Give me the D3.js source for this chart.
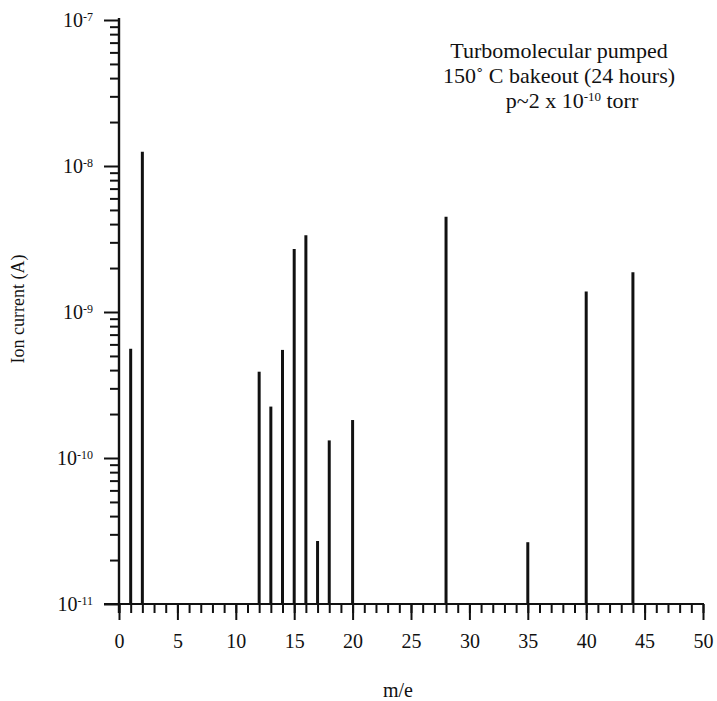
<!DOCTYPE html>
<html>
<head>
<meta charset="utf-8">
<script src="https://cdn.jsdelivr.net/npm/d3@7"></script>
<style>
  body { margin: 0; background: #fff; }
  svg { display: block; }
  text { font-family: "Liberation Serif", "DejaVu Serif", serif; fill: #111; }
</style>
</head>
<body>
<svg id="chart" width="717" height="701"></svg>
<script>
// Residual gas mass spectrum: ion current per mass-to-charge ratio
const massNumbers = [1, 2, 12, 13, 14, 15, 16, 17, 18, 20, 28, 35, 40, 44];
const ionCurrent = [5.6e-10, 1.25e-8, 3.9e-10, 2.25e-10, 5.5e-10, 2.7e-9, 3.35e-9,
                    2.7e-11, 1.32e-10, 1.82e-10, 4.5e-9, 2.65e-11, 1.38e-9, 1.87e-9];
const xTickValues = [0, 5, 10, 15, 20, 25, 30, 35, 40, 45, 50];
const yDecadeExponents = [-11, -10, -9, -8, -7];
const annotationLines = ["Turbomolecular pumped", "150\u02da C bakeout (24 hours)"];

const svg = d3.select("#chart");
const plotLeft = 119, plotRight = 703, plotTop = 20, plotBottom = 604;

const x = d3.scaleLinear().domain([0, 50]).range([plotLeft, plotRight]);
const y = d3.scaleLog().domain([1e-11, 1e-7]).range([plotBottom, plotTop]);

const ink = "#111";

// Peaks
svg.append("g").selectAll("line")
  .data(massNumbers.map((m, i) => ({ m, v: ionCurrent[i] })))
  .join("line")
  .attr("x1", d => x(d.m)).attr("x2", d => x(d.m))
  .attr("y1", y(1e-11)).attr("y2", d => y(d.v))
  .attr("stroke", ink).attr("stroke-width", 3);

// X axis: minor tick every unit, longer tick every 5
const xAxisMinor = d3.axisBottom(x).tickValues(d3.range(0, 51, 1)).tickSize(9).tickFormat("");
const xAxisMajor = d3.axisBottom(x).tickValues(xTickValues).tickSize(16).tickFormat(d3.format("d"));

const gxMinor = svg.append("g").attr("transform", `translate(0,${plotBottom})`).call(xAxisMinor);
const gx = svg.append("g").attr("transform", `translate(0,${plotBottom})`).call(xAxisMajor);
[gxMinor, gx].forEach(g => {
  g.select(".domain").remove();
  g.selectAll(".tick line").attr("stroke", ink).attr("stroke-width", 2);
});
gx.selectAll(".tick text").attr("font-size", 20).attr("y", 44).attr("dy", 0)
  .style("font-family", "'Liberation Serif', serif").attr("fill", ink);

// X axis line (extends slightly left of the y axis)
svg.append("line").attr("x1", plotLeft - 15).attr("x2", x(50) + 1)
  .attr("y1", plotBottom).attr("y2", plotBottom)
  .attr("stroke", ink).attr("stroke-width", 2.2);

// Y axis: log ticks
const minorVals = [];
for (let e = -11; e < -7; e++) for (let k = 2; k <= 9; k++) minorVals.push(k * Math.pow(10, e));
const yAxisMinor = d3.axisLeft(y).tickValues(minorVals).tickSize(9).tickFormat("");
const yAxisMajor = d3.axisLeft(y).tickValues(yDecadeExponents.map(e => Math.pow(10, e))).tickSize(15).tickFormat("");
const gyMinor = svg.append("g").attr("transform", `translate(${plotLeft},0)`).call(yAxisMinor);
const gy = svg.append("g").attr("transform", `translate(${plotLeft},0)`).call(yAxisMajor);
[gyMinor, gy].forEach(g => {
  g.select(".domain").remove();
  g.selectAll(".tick line").attr("stroke", ink).attr("stroke-width", 2);
});
svg.append("line").attr("x1", plotLeft).attr("x2", plotLeft)
  .attr("y1", plotTop - 2).attr("y2", plotBottom + 9)
  .attr("stroke", ink).attr("stroke-width", 2.4);

// Decade labels 10^n
const yLabels = svg.append("g").selectAll("text")
  .data(yDecadeExponents).join("text")
  .attr("x", plotLeft - 26).attr("y", e => y(Math.pow(10, e)) + 7)
  .attr("text-anchor", "end").attr("font-size", 20);
yLabels.append("tspan").text("10");
yLabels.append("tspan").attr("dy", -6).attr("font-size", 12).text(e => "-" + Math.abs(e));

// Axis titles
svg.append("text").attr("x", 398).attr("y", 697).attr("text-anchor", "middle")
  .attr("font-size", 20).text("m/e");
svg.append("text").attr("transform", "translate(24,309) rotate(-90)")
  .attr("text-anchor", "middle").attr("font-size", 18).text("Ion current (A)");

// Annotation
const ann = svg.append("g");
annotationLines.forEach((t, i) => {
  ann.append("text").attr("x", 559).attr("y", 58 + i * 25)
    .attr("text-anchor", "middle").attr("font-size", 22).text(t);
});
const pLine = ann.append("text").attr("x", 572).attr("y", 108)
  .attr("text-anchor", "middle").attr("font-size", 22);
pLine.append("tspan").text("p~2 x 10");
pLine.append("tspan").attr("dy", -7).attr("font-size", 13).text("-10");
pLine.append("tspan").attr("dy", 7).text(" torr");
</script>
</body>
</html>
